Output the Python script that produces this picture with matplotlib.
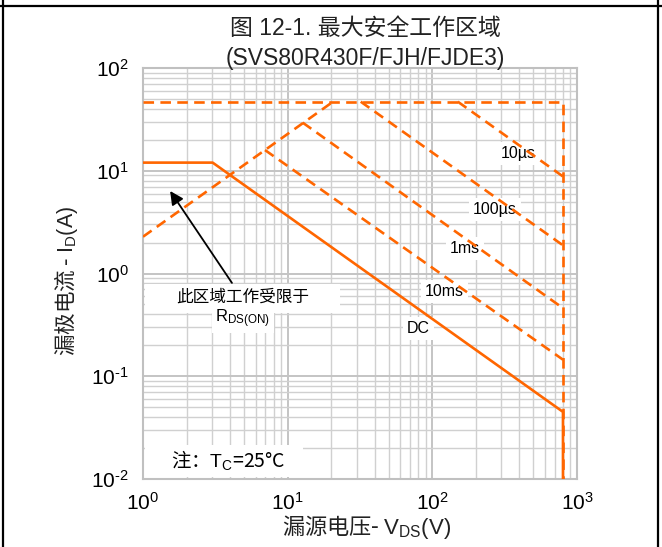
import matplotlib
matplotlib.use('Agg')
import matplotlib.pyplot as plt
from matplotlib.patches import Rectangle

# Fonts: Arial-like for latin, CJK fallback.
plt.rcParams['font.family'] = ['Liberation Sans', 'Noto Sans CJK SC']
plt.rcParams['mathtext.fontset'] = 'custom'
plt.rcParams['mathtext.rm'] = 'Liberation Sans'
plt.rcParams['mathtext.it'] = 'Liberation Sans:italic'
plt.rcParams['mathtext.bf'] = 'Liberation Sans:bold'
plt.rcParams['axes.unicode_minus'] = False
cjk = ['Noto Sans CJK SC']

# SOA curve data (V_DS in V, I_D in A).
boundaryV = [1, 800, 800]
boundaryI = [47, 47, 0.01]
rdsV = [1, 20.6]
rdsI = [2.28, 47]
us10V = [150, 800]
us10I = [47, 8.8]
us100V = [32, 800]
us100I = [47, 1.88]
ms1V = [12.7, 800]
ms1I = [29.4, 0.46]
ms10V = [6.97, 800]
ms10I = [15.9, 0.145]
dcV = [1, 3.03, 800, 800]
dcI = [12, 12, 0.045, 0.01]

curveLabels = ['10µs', '100µs', '1ms', '10ms', 'DC']
curveLabelPos = [(0.864, 0.793), (0.811, 0.655), (0.742, 0.562),
    (0.694, 0.457), (0.634, 0.365)]

xTicks = [1, 10, 100, 1000]
xExp = ['0', '1', '2', '3']
yTicks = [0.01, 0.1, 1, 10, 100]
yExp = ['\u20102', '\u20101', '0', '1', '2']

orange = '#FF6600'
lw = 1.9
dash = (4, 2.4)

W, H = 662, 547
fig = plt.figure(figsize=(W/100, H/100), dpi=100)
ax = fig.add_axes([143/W, 1-479/H, 434/W, 411/H])
ax.set_xscale('log')
ax.set_yscale('log')
ax.set_xlim(1, 1000)
ax.set_ylim(0.01, 100)
ax.set_xticks(xTicks, labels=[r'$\mathdefault{10^{%s}}$' % e for e in xExp])
ax.set_yticks(yTicks, labels=[r'$\mathdefault{10^{%s}}$' % e for e in yExp])

ax.set_axisbelow(True)
ax.grid(True, which='major', color='#C4C4C4', lw=1.4)
ax.grid(True, which='minor', color='#D0D0D0', lw=1.0)
for s in ax.spines.values():
    s.set_color('#C0C0C0')
    s.set_linewidth(1.5)
ax.tick_params(which='both', length=0, labelsize=15)
ax.tick_params(axis='y', pad=10)
ax.tick_params(axis='x', pad=9)

# Dashed pulse curves.
for (v, i) in [(boundaryV, boundaryI), (rdsV, rdsI), (us10V, us10I),
        (us100V, us100I), (ms1V, ms1I), (ms10V, ms10I)]:
    ax.plot(v, i, color=orange, lw=lw, dashes=dash, zorder=3)
# DC curve.
ax.plot(dcV, dcI, color=orange, lw=lw, zorder=3)

for (txt, pos) in zip(curveLabels, curveLabelPos):
    ax.text(pos[0], pos[1], txt, transform=ax.transAxes, fontsize=11.5,
        ha='center', va='center', zorder=2,
        bbox=dict(fc='white', ec='none', boxstyle='square,pad=0.25'))

# White boxes behind the notes.
ax.add_patch(Rectangle((0.005, 0.404), 0.449, 0.07, transform=ax.transAxes,
    fc='white', ec='none', zorder=1.5))
ax.add_patch(Rectangle((0.005, 0.005), 0.364, 0.078, transform=ax.transAxes,
    fc='white', ec='none', zorder=1.5))
ax.text(0.230, 0.443, '此区域工作受限于', transform=ax.transAxes,
    fontsize=12, ha='center', va='center', zorder=2, family=cjk)
ax.text(0.230, 0.390, r'$\mathrm{R_{DS(ON)}}$', transform=ax.transAxes,
    fontsize=12, ha='center', va='center', zorder=2,
    bbox=dict(fc='white', ec='none', boxstyle='square,pad=0.2'))
ax.text(0.196, 0.046, r'注：$\mathrm{T_C}$=25°C', transform=ax.transAxes,
    fontsize=14, ha='center', va='center', zorder=2, family=cjk)

# Arrow pointing at the R_DS(on) limited region.
ax.annotate('', xy=(1.54, 6.35), xytext=(4.12, 0.81),
    arrowprops=dict(arrowstyle='-|>', color='black', lw=1.3,
        mutation_scale=20, shrinkA=0, shrinkB=0), zorder=4)

# Titles and axis labels.
fig.text(365/W, 1-28/H, '图 12-1. 最大安全工作区域', fontsize=16.5,
    ha='center', va='center', color='#222222')
fig.text(365/W, 1-59/H, '(SVS80R430F/FJH/FJDE3)', fontsize=16.5,
    ha='center', va='center', color='#222222')
fig.text(367/W, 1-527/H, r'漏源电压- $\mathrm{V_{DS}(V)}$', fontsize=16,
    ha='center', va='center', family=cjk, color='#222222')
fig.text(66/W, 1-281/H, r'漏极电流 - $\mathrm{I_D(A)}$', fontsize=15.5,
    ha='center', va='center', rotation=90, family=cjk, color='#222222')

# Table frame around the figure.
fig.add_artist(plt.Line2D([0, 1], [1-6/H, 1-6/H], color='black', lw=1.6))
fig.add_artist(plt.Line2D([3/W, 3/W], [0, 1], color='black', lw=1.6))
fig.add_artist(plt.Line2D([658/W, 658/W], [0, 1], color='black', lw=1.6))

fig.savefig('out.png', dpi=100)
